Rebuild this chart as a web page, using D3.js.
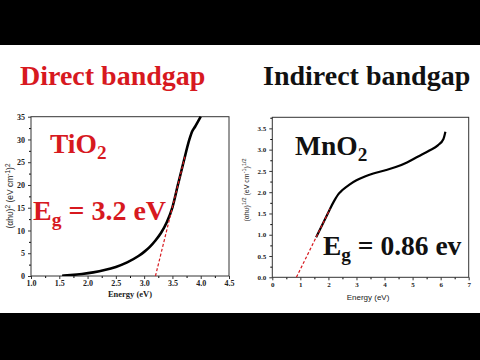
<!DOCTYPE html>
<html><head><meta charset="utf-8">
<script src="https://cdn.jsdelivr.net/npm/d3@7/dist/d3.min.js"></script>
<style>html,body{margin:0;padding:0;background:#000;}svg{display:block;}</style>
</head><body>
<script>
// TiO2 (direct) data
const tioEnergy = [1.55,1.7,1.9,2.1,2.3,2.5,2.7,2.9,3.0,3.1,3.2,3.3,3.4,3.5,3.6,3.7,3.8,3.85,3.9,4.0];
const tioValue  = [0.05,0.2,0.45,0.8,1.3,2.0,3.0,4.4,5.3,6.4,7.8,9.5,11.8,15.1,20.2,25.2,30.0,31.8,32.8,35.0];
const tioFitX = [3.2, 3.72];
const tioFitY = [0, 26.2];
const tioXTicks = [1.0,1.5,2.0,2.5,3.0,3.5,4.0,4.5];
const tioYTicks = [0,5,10,15,20,25,30,35];

// MnO2 (indirect) data
const mnoEnergy = [1.56,1.8,2.0,2.2,2.35,2.5,2.75,3.0,3.3,3.6,4.0,4.4,4.8,5.2,5.6,5.9,6.1,6.17];
const mnoValue  = [0.94,1.26,1.53,1.79,1.95,2.05,2.18,2.28,2.37,2.44,2.51,2.59,2.70,2.84,2.98,3.10,3.25,3.42];
const mnoFitX = [0.86, 2.06];
const mnoFitY = [0, 1.61];
const mnoXTicks = [0,1,2,3,4,5,6,7];
const mnoYTicks = [0.0,0.5,1.0,1.5,2.0,2.5,3.0,3.5];

const W = 480, H = 360;
const svg = d3.select("body").append("svg").attr("width", W).attr("height", H);
svg.append("rect").attr("x",0).attr("y",45).attr("width",W).attr("height",268).attr("fill","#fff");

const serif = "'Liberation Serif','Times New Roman',serif";
const sans = "'Liberation Sans',Arial,sans-serif";

// titles
svg.append("text").attr("x",20).attr("y",85).attr("font-family",serif).attr("font-weight","bold")
  .attr("font-size",28).attr("fill","#d7191f").text("Direct bandgap");
svg.append("text").attr("x",263).attr("y",85).attr("font-family",serif).attr("font-weight","bold")
  .attr("font-size",28).attr("fill","#111").text("Indirect bandgap");

function panel(o){
  const g = svg.append("g");
  const x = d3.scaleLinear().domain(o.xd).range([o.l,o.r]);
  const y = d3.scaleLinear().domain(o.yd).range([o.b,o.t]);
  // minor ticks
  g.append("g").attr("transform",`translate(0,${o.b})`)
    .call(d3.axisBottom(x).tickValues(o.xMinor).tickSize(2).tickFormat(""))
    .call(a=>a.select(".domain").remove());
  g.append("g").attr("transform",`translate(${o.l},0)`)
    .call(d3.axisLeft(y).tickValues(o.yMinor).tickSize(2).tickFormat(""))
    .call(a=>a.select(".domain").remove());
  const xa = g.append("g").attr("transform",`translate(0,${o.b})`)
    .call(d3.axisBottom(x).tickValues(o.xt).tickSize(3).tickPadding(o.xp).tickFormat(o.xf));
  const ya = g.append("g").attr("transform",`translate(${o.l},0)`)
    .call(d3.axisLeft(y).tickValues(o.yt).tickSize(3).tickPadding(3).tickFormat(o.yf));
  [xa,ya].forEach(a=>{
    a.selectAll("text").attr("font-family",serif).attr("font-weight","bold").attr("font-size",o.tf).attr("fill","#222");
    a.selectAll("line").attr("stroke","#333");
    a.select(".domain").remove();
  });
  g.append("rect").attr("x",o.l).attr("y",o.t).attr("width",o.r-o.l).attr("height",o.b-o.t)
    .attr("fill","none").attr("stroke","#333").attr("stroke-width",1);
  const clip = "clip"+o.id;
  g.append("clipPath").attr("id",clip).append("rect").attr("x",o.l).attr("y",o.t-1).attr("width",o.r-o.l).attr("height",o.b-o.t+1);
  const line = d3.line().x(d=>x(d[0])).y(d=>y(d[1])).curve(d3.curveMonotoneX);
  g.append("path").attr("clip-path",`url(#${clip})`).attr("d",line(o.ex.map((e,i)=>[e,o.ev[i]])))
    .attr("fill","none").attr("stroke","#000").attr("stroke-width",o.lw);
  g.append("path").attr("d",d3.line().x(d=>x(d[0])).y(d=>y(d[1]))(o.fx.map((e,i)=>[e,o.fy[i]])))
    .attr("fill","none").attr("stroke","#d7191f").attr("stroke-width",1.2).attr("stroke-dasharray","3,2");
  return {g,x,y};
}

const p1 = panel({id:1,l:31,r:229,t:116.7,b:276,xd:[1.0,4.5],yd:[0,35],xt:tioXTicks,yt:tioYTicks,xp:1,
  xMinor:d3.range(1.25,4.5,0.5),yMinor:d3.range(2.5,35,5),xf:d3.format(".1f"),yf:d3.format("d"),tf:8,
  ex:tioEnergy,ev:tioValue,fx:tioFitX,fy:tioFitY,lw:2.6});
const p2 = panel({id:2,l:272.3,r:468.7,t:117.3,b:277.3,xd:[0,7],yd:[0,3.76],xt:mnoXTicks,yt:mnoYTicks,xp:2,
  xMinor:d3.range(0.5,7,1),yMinor:d3.range(0.25,3.76,0.5),xf:d3.format("d"),yf:d3.format(".1f"),tf:7,
  ex:mnoEnergy,ev:mnoValue,fx:mnoFitX,fy:mnoFitY,lw:2.2});

// axis titles
svg.append("text").attr("x",130).attr("y",297).attr("text-anchor","middle").attr("font-family",serif)
  .attr("font-weight","bold").attr("font-size",8.5).attr("fill","#222").text("Energy (eV)");
svg.append("text").attr("x",368).attr("y",300).attr("text-anchor","middle").attr("font-family",sans)
  .attr("font-size",8).attr("fill","#222").text("Energy (eV)");

const yl1 = svg.append("text").attr("transform","translate(13,196) rotate(-90)").attr("text-anchor","middle")
  .attr("font-family",sans).attr("font-size",8.5).attr("fill","#222");
yl1.append("tspan").text("(αhυ)");
yl1.append("tspan").attr("dy",-3.5).attr("font-size",6.5).text("2");
yl1.append("tspan").attr("dy",3.5).text(" (eV cm");
yl1.append("tspan").attr("dy",-3.5).attr("font-size",6.5).text("-1");
yl1.append("tspan").attr("dy",3.5).text(")");
yl1.append("tspan").attr("dy",-3.5).attr("font-size",6.5).text("2");

const yl2 = svg.append("text").attr("transform","translate(249,190) rotate(-90)").attr("text-anchor","middle")
  .attr("font-family",sans).attr("font-size",7).attr("fill","#222");
yl2.append("tspan").text("(αhυ)");
yl2.append("tspan").attr("dy",-3).attr("font-size",5.5).text("1/2");
yl2.append("tspan").attr("dy",3).text(" (eV cm");
yl2.append("tspan").attr("dy",-3).attr("font-size",5.5).text("-1");
yl2.append("tspan").attr("dy",3).text(")");
yl2.append("tspan").attr("dy",-3).attr("font-size",5.5).text("1/2");

// annotations
function sub(xp,yp,main,s,rest,color,fs){
  const t = svg.append("text").attr("x",xp).attr("y",yp).attr("font-family",serif).attr("font-weight","bold")
    .attr("font-size",fs).attr("fill",color);
  t.append("tspan").text(main);
  t.append("tspan").attr("dy",fs*0.22).attr("font-size",fs*0.7).text(s);
  if(rest) t.append("tspan").attr("dy",-fs*0.22).text(rest);
}
sub(50,153,"TiO","2","","#d7191f",27.5);
sub(33,220,"E","g"," = 3.2 eV","#d7191f",28);
sub(295,155,"MnO","2","","#111",27.5);
sub(323,255,"E","g"," = 0.86 ev","#111",27.5);
</script>
</body></html>
